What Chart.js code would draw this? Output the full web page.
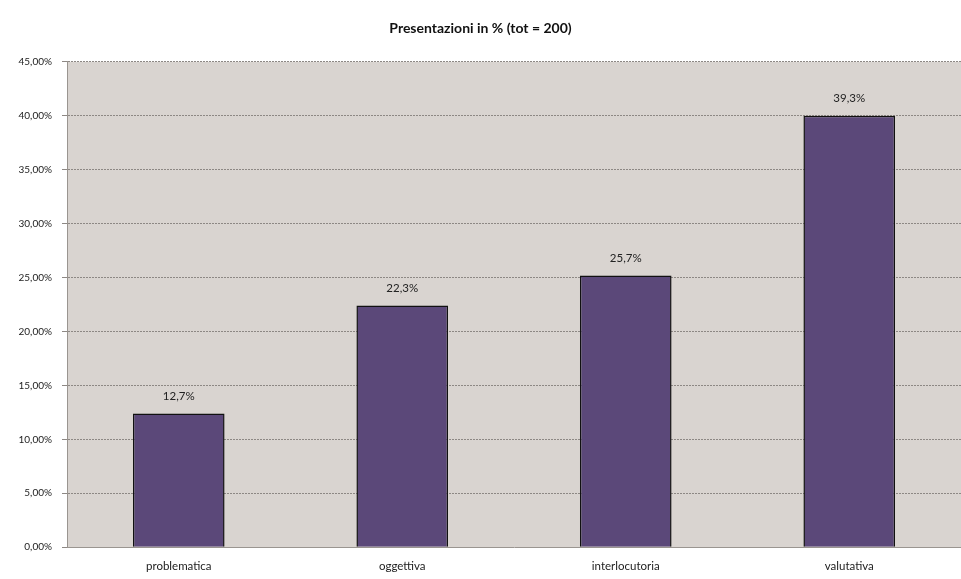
<!DOCTYPE html>
<html>
<head>
<meta charset="utf-8">
<script src="https://cdn.jsdelivr.net/npm/chart.js@4"></script>
<style>
	html, body { margin: 0; padding: 0; background: #fff; }
	#wrap { width: 961px; height: 579px; }
</style>
</head>
<body>
<div id="wrap"><canvas id="chart" width="961" height="579"></canvas></div>
<script>
// categories and values
const categories = ['problematica', 'oggettiva', 'interlocutoria', 'valutativa']
const barValues = [12.4, 22.4, 25.2, 40.0]
const barLabels = ['12,7%', '22,3%', '25,7%', '39,3%']
const titleText = 'Presentazioni in % (tot = 200)'

const fontFamily = 'Lato, "DejaVu Sans", sans-serif'

// grey plot area background
const plotBackground = {
	id: 'plotBackground',
	beforeDraw(chart) {
		const { ctx, chartArea } = chart
		ctx.save()
		ctx.fillStyle = '#d9d4d0'
		ctx.fillRect(chartArea.left, chartArea.top, chartArea.right - chartArea.left, chartArea.bottom - chartArea.top)
		ctx.restore()
	},
}

// text labels above each bar
const barText = {
	id: 'barText',
	afterDatasetsDraw(chart) {
		const { ctx } = chart
		const meta = chart.getDatasetMeta(0)
		ctx.save()
		ctx.fillStyle = '#222'
		ctx.font = '11.5px ' + fontFamily
		ctx.textAlign = 'center'
		ctx.textBaseline = 'middle'
		meta.data.forEach((bar, i) => {
			ctx.fillText(barLabels[i], bar.x, bar.y - 17)
		})
		ctx.restore()
	},
}

new Chart(document.getElementById('chart'), {
	type: 'bar',
	data: {
		labels: categories,
		datasets: [
			{
				data: barValues,
				backgroundColor: '#5b4879',
				borderColor: '#111',
				borderWidth: 1.5,
				categoryPercentage: 1,
				barPercentage: 0.41,
			},
		],
	},
	options: {
		responsive: false,
		animation: false,
		layout: { padding: { top: 20, right: 0, bottom: 2, left: 0 } },
		plugins: {
			legend: { display: false },
			tooltip: { enabled: false },
			title: {
				display: true,
				text: titleText,
				color: '#111',
				font: { family: fontFamily, size: 14, weight: 'bold' },
				padding: { top: 0, bottom: 25 },
			},
		},
		scales: {
			x: {
				grid: { display: false },
				border: { color: '#9a9590', width: 1 },
				ticks: {
					color: '#222',
					font: { family: fontFamily, size: 11.5 },
					padding: 4,
				},
			},
			y: {
				min: 0,
				max: 45,
				afterFit(scale) {
					scale.width = 67
				},
				grid: {
					color: '#8d8884',
					lineWidth: 1,
					tickLength: 5,
				},
				border: { display: true, color: '#9a9590', dash: [2, 1] },
				ticks: {
					stepSize: 5,
					color: '#222',
					padding: 10,
					font: { family: fontFamily, size: 10 },
					callback: (v) => v.toFixed(2).replace('.', ',') + '%',
				},
			},
		},
	},
	plugins: [plotBackground, barText],
})
</script>
</body>
</html>
